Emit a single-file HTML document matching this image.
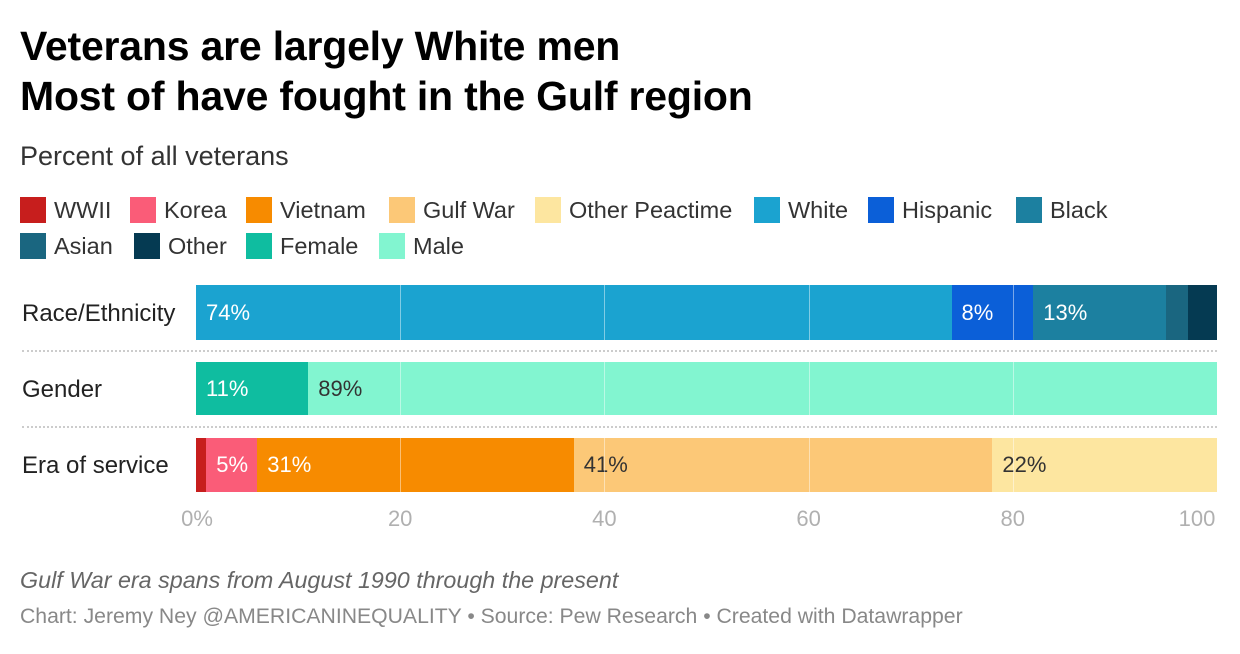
<!DOCTYPE html>
<html><head><meta charset="utf-8">
<style>
body{margin:0;width:1240px;height:654px;background:#fff;font-family:"Liberation Sans",sans-serif;position:relative;overflow:hidden;color:#222}
.a{position:absolute;white-space:nowrap}
h1{position:absolute;left:20px;top:21px;margin:0;font-size:41px;line-height:50px;font-weight:bold;color:#000;letter-spacing:-0.2px}
.sw{position:absolute;width:26px;height:26px}
.lt{position:absolute;font-size:23.5px;color:#333;line-height:26px;white-space:nowrap}
.rl{position:absolute;left:22px;font-size:24px;color:#222;white-space:nowrap}
.tk{position:absolute;top:506px;font-size:22px;color:#b0b0b0;transform:translateX(-50%)}
.bl{position:absolute;font-size:22px;line-height:22px}
</style></head><body>
<h1>Veterans are largely White men<br>Most of have fought in the Gulf region</h1>
<div class="a" style="left:20px;top:141px;font-size:27px;color:#333">Percent of all veterans</div>
<div id="legend"></div>
<div id="plot"></div>
<div class="a" style="left:20px;top:567px;font-size:23.3px;font-style:italic;color:#666">Gulf War era spans from August 1990 through the present</div>
<div class="a" style="left:20px;top:605px;font-size:21.2px;color:#888">Chart: Jeremy Ney @AMERICANINEQUALITY • Source: Pew Research • Created with Datawrapper</div>
<script>
const rows=["Race/Ethnicity","Gender","Era of service"];
const raceNames=["White","Hispanic","Black","Asian","Other"];
const raceValues=[74,8,13,2.2,2.8];
const genderNames=["Female","Male"];
const genderValues=[11,89];
const eraNames=["WWII","Korea","Vietnam","Gulf War","Other Peactime"];
const eraValues=[1,5,31,41,22];
const ticks=[0,20,40,60,80,100];
const tickLabels=["0%","20","40","60","80","100"];
const colors={"WWII":"#c71e1d","Korea":"#fa5c78","Vietnam":"#f78b00","Gulf War":"#fcc877","Other Peactime":"#fde6a0","White":"#1ba3d0","Hispanic":"#0b5fd8","Black":"#1c80a0","Asian":"#1a6680","Other":"#053a52","Female":"#0fbda0","Male":"#82f5d0"};
const dark={"WWII":1,"Korea":1,"Vietnam":1,"White":1,"Hispanic":1,"Black":1,"Asian":1,"Other":1,"Female":1};
const legendOrder=["WWII","Korea","Vietnam","Gulf War","Other Peactime","White","Hispanic","Black","Asian","Other","Female","Male"];
const legendPos=[[20,197],[130,197],[246,197],[389,197],[535,197],[754,197],[868,197],[1016,197],[20,233],[134,233],[246,233],[379,233]];
const x0=196,x1=1217;
const xs=v=>x0+(x1-x0)*v/100;
const rowTop=[285,362,438],rowH=[55,53,54];
const lg=document.getElementById('legend');
legendOrder.forEach((n,i)=>{
 const s=document.createElement('div');s.className='sw';
 
 
 s.style.left=legendPos[i][0]+'px';s.style.top=legendPos[i][1]+'px';s.style.background=colors[n];lg.appendChild(s);
 const t=document.createElement('div');t.className='lt';
 
 
 t.style.left=(legendPos[i][0]+34)+'px';t.style.top=legendPos[i][1]+'px';t.textContent=n;lg.appendChild(t);
});
const plot=document.getElementById('plot');
const series=[[raceNames,raceValues],[genderNames,genderValues],[eraNames,eraValues]];
series.forEach((s,r)=>{
 const l=document.createElement('div');l.className='rl';
 
 
 l.style.top=(rowTop[r]+rowH[r]/2-13)+'px';l.textContent=rows[r];plot.appendChild(l);
 let c=0;
 s[0].forEach((n,i)=>{
  const v=s[1][i];const a=xs(c),b=xs(c+v);
  const d=document.createElement('div');
  
  
  d.style.cssText=`position:absolute;left:${a}px;width:${b-a}px;top:${rowTop[r]}px;height:${rowH[r]}px;background:${colors[n]}`;
  plot.appendChild(d);
  if(v>=4){
   const t=document.createElement('div');t.className='bl';
   
   
   t.style.left=(a+10)+'px';t.style.top=(rowTop[r]+rowH[r]/2-11)+'px';
   t.style.color=dark[n]?'#fff':'#333';t.textContent=Math.round(v)+'%';plot.appendChild(t);
  }
  c+=v;
 });
});
ticks.forEach((t,i)=>{
 if(t>0&&t<100){
  const g=document.createElement('div');
  
  
  g.style.cssText=`position:absolute;left:${xs(t)}px;top:280px;width:1px;height:217px;background:rgba(255,255,255,0.45)`;
  plot.appendChild(g);
 }
 const k=document.createElement('div');k.className='tk';
 
 
 k.style.left=(xs(t)+(i==0?1:(i==ticks.length-1?-20:0)))+'px';k.textContent=tickLabels[i];plot.appendChild(k);
});
[350,426].forEach(y=>{
 const s=document.createElement('div');
 
 
 s.style.cssText=`position:absolute;left:22px;width:1195px;top:${y}px;border-top:2px dotted #ccc`;
 plot.appendChild(s);
});
</script>
</body></html>
